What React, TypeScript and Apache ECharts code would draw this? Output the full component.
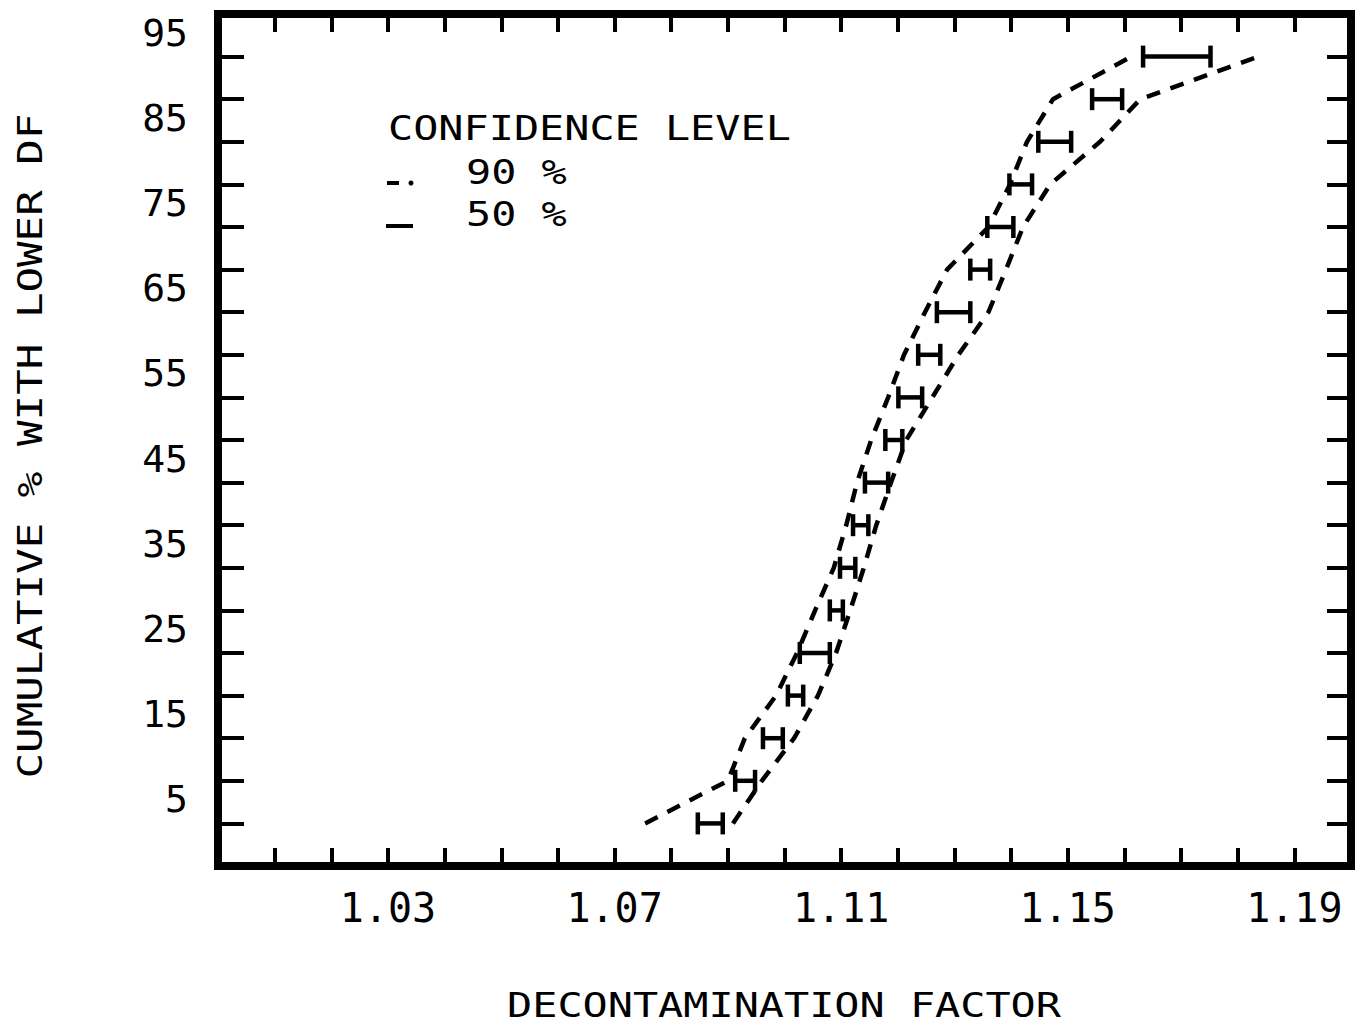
import React, { useEffect, useRef } from "react";
import * as echarts from "echarts";

// Cumulative percentage levels (y)
const percentiles = [5, 10, 15, 20, 25, 30, 35, 40, 45, 50, 55, 60, 65, 70, 75, 80, 85, 90, 95];

// 50 % confidence interval (H bars): low and high decontamination factor
const bar50Low = [1.0847, 1.0913, 1.0962, 1.1006, 1.1027, 1.108, 1.1098, 1.1121, 1.1142, 1.1178, 1.1201, 1.1236, 1.1269, 1.1328, 1.1358, 1.1397, 1.1448, 1.1543, 1.1633];
const bar50High = [1.0891, 1.0948, 1.0997, 1.1033, 1.108, 1.1103, 1.1125, 1.1148, 1.1183, 1.1208, 1.1243, 1.1275, 1.1328, 1.1363, 1.1404, 1.1437, 1.1506, 1.1596, 1.1752];

// 90 % confidence band (dashed lines)
const band90Left = [1.0754, 1.09, 1.093, 1.0985, 1.1022, 1.1054, 1.1087, 1.1109, 1.1128, 1.1153, 1.1183, 1.1211, 1.1248, 1.1287, 1.136, 1.1398, 1.1428, 1.1474, 1.1612];
const band90Right = [1.0909, 1.096, 1.1017, 1.1059, 1.1091, 1.1116, 1.114, 1.1162, 1.1188, 1.1215, 1.1261, 1.1307, 1.136, 1.1391, 1.1421, 1.1469, 1.1557, 1.1628, 1.1837];

// Tick labels
const xTickLabels = ["1.03", "1.07", "1.11", "1.15", "1.19"];
const yTickLabels = ["5", "15", "25", "35", "45", "55", "65", "75", "85", "95"];

const FONT = '"DejaVu Sans Mono", "Liberation Mono", monospace';

export default function App() {
  const ref = useRef<HTMLDivElement>(null);

  useEffect(() => {
    document.body.style.margin = "0";
    if (!ref.current) return;
    const chart = echarts.init(ref.current, undefined, { renderer: "svg" });

    const xAxisBase = {
      type: "value" as const,
      min: 1.0,
      max: 1.2,
      interval: 0.01,
      splitLine: { show: false },
      axisLine: { show: false, onZero: false },
      axisTick: { show: true, inside: true, length: 18, lineStyle: { color: "#000", width: 4 } },
    };
    const yAxisBase = {
      type: "value" as const,
      min: 0,
      max: 100,
      interval: 5,
      splitLine: { show: false },
      axisLine: { show: false, onZero: false },
    };

    const titleText = (text: string, x: number, y: number, extra: any = {}) => ({
      type: "text",
      x,
      y,
      scaleX: 1.23,
      ...extra,
      style: {
        text,
        fill: "#000",
        fontFamily: FONT,
        fontSize: 34,
        align: extra.align || "left",
        verticalAlign: "middle",
      },
    });

    chart.setOption({
      animation: false,
      backgroundColor: "#fff",
      grid: {
        left: 218,
        right: 4,
        top: 14,
        bottom: 158,
        show: true,
        borderColor: "#000",
        borderWidth: 8,
        backgroundColor: "transparent",
      },
      xAxis: [
        {
          ...xAxisBase,
          position: "bottom",
          axisLabel: {
            show: true,
            margin: 22,
            color: "#000",
            fontFamily: FONT,
            fontSize: 40,
            formatter: (v: number) => {
              const s = v.toFixed(2);
              return xTickLabels.includes(s) ? s : "";
            },
          },
        },
        {
          ...xAxisBase,
          position: "top",
          axisLabel: { show: false },
        },
      ],
      yAxis: [
        {
          ...yAxisBase,
          position: "left",
          axisTick: { show: true, inside: true, length: 26, lineStyle: { color: "#000", width: 4 } },
          axisLabel: {
            show: true,
            margin: 30,
            color: "#000",
            fontFamily: FONT,
            fontSize: 38,
            verticalAlign: "bottom",
            lineHeight: 48,
            formatter: (v: number) => {
              const s = String(Math.round(v));
              return yTickLabels.includes(s) ? s : "";
            },
          },
        },
        {
          ...yAxisBase,
          position: "right",
          axisTick: { show: true, inside: true, length: 24, lineStyle: { color: "#000", width: 4 } },
          axisLabel: { show: false },
        },
      ],
      series: [
        {
          type: "line",
          name: "90% left",
          data: percentiles.map((p, i) => [band90Left[i], p]),
          showSymbol: false,
          symbol: "none",
          lineStyle: { color: "#000", width: 4.5, type: [14, 11] },
          z: 3,
        },
        {
          type: "line",
          name: "90% right",
          data: percentiles.map((p, i) => [band90Right[i], p]),
          showSymbol: false,
          symbol: "none",
          lineStyle: { color: "#000", width: 4.5, type: [14, 11] },
          z: 3,
        },
        {
          type: "custom",
          name: "50%",
          data: percentiles.map((p, i) => [bar50Low[i], bar50High[i], p]),
          encode: { x: [0, 1], y: 2 },
          renderItem: (params: any, api: any) => {
            const lo = api.coord([api.value(0), api.value(2)]);
            const hi = api.coord([api.value(1), api.value(2)]);
            const h = 11;
            const style = { stroke: "#000", lineWidth: 4.5, fill: "none" };
            return {
              type: "group",
              children: [
                { type: "line", shape: { x1: lo[0], y1: lo[1], x2: hi[0], y2: hi[1] }, style },
                { type: "line", shape: { x1: lo[0], y1: lo[1] - h, x2: lo[0], y2: lo[1] + h }, style },
                { type: "line", shape: { x1: hi[0], y1: hi[1] - h, x2: hi[0], y2: hi[1] + h }, style },
              ],
            };
          },
          z: 4,
        },
      ],
      graphic: [
        titleText("DECONTAMINATION FACTOR", 784, 1005, { align: "center" }),
        titleText("CUMULATIVE % WITH LOWER DF", 30, 446, { align: "center", rotation: Math.PI / 2, scaleX: 1.25 }),
        titleText("CONFIDENCE LEVEL", 388, 128),
        titleText("90 %", 466, 172),
        titleText("50 %", 466, 214),
        {
          type: "line",
          shape: { x1: 387, y1: 183, x2: 399, y2: 183 },
          style: { stroke: "#000", lineWidth: 4 },
        },
        {
          type: "circle",
          shape: { cx: 411, cy: 183, r: 2.5 },
          style: { fill: "#000" },
        },
        {
          type: "line",
          shape: { x1: 386, y1: 226, x2: 413, y2: 226 },
          style: { stroke: "#000", lineWidth: 4 },
        },
      ],
    });

    return () => {
      chart.dispose();
    };
  }, []);

  return <div ref={ref} style={{ width: 1355, height: 1024 }} />;
}
